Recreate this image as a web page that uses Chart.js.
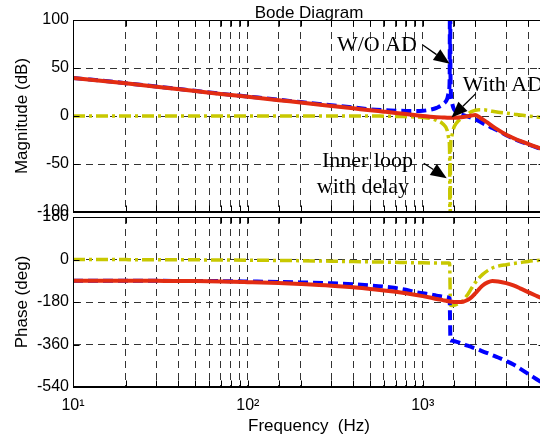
<!DOCTYPE html>
<html>
<head>
<meta charset="utf-8">
<script src="https://cdn.jsdelivr.net/npm/chart.js@4.4.1/dist/chart.umd.min.js"></script>
<style>
html,body{margin:0;padding:0;background:#fff;overflow:hidden;width:540px;height:440px;}
#wrap{position:relative;width:540px;height:440px;overflow:hidden;background:#fff;}
#mag{position:absolute;left:0;top:0;}
#phase{position:absolute;left:0;top:200px;}
</style>
</head>
<body>
<div id="wrap">
<canvas id="mag" width="545" height="230"></canvas>
<canvas id="phase" width="545" height="240"></canvas>
</div>
<script>
// ---------------- data ----------------
const freqHz = [10, 20, 30, 50, 70, 100, 150, 200, 300, 400, 500, 600, 700, 800, 900, 1000, 1100, 1200, 1300, 1380, 1410, 1425, 1432, 1440, 1460, 1500, 1550, 1600, 1700, 1800, 1900, 2000, 2100, 2200, 2350, 2500, 2700, 3000, 3300, 3600, 4000, 4500, 5000];

const magWithAD = [39.5, 34, 30.5, 26, 23, 20, 16.5, 14, 10.5, 8, 6, 4.5, 3.2, 2, 1, 0, -0.7, -1.2, -1.5, -1.7, -1.8, -1.8, -1.8, -1.8, -1.8, -1.8, -1.7, -1.5, -1, -0.3, 0.5, 1, -1, -3.5, -7, -10.5, -14.5, -19.5, -23, -26, -29, -32.5, -35.5];
const magWithoutAD = [39.7, 34.2, 30.7, 26.2, 23.2, 20.3, 17, 14.5, 11.2, 9, 7, 6, 5.5, 5.3, 5.3, 5.5, 6.5, 8.5, 12, 18, 25, 40, 200, 45, 17, 8, 4.5, 3, 1, -0.5, -2, -3.5, -5.5, -7.5, -10, -12.5, -15.5, -20, -23.5, -26.5, -29.5, -33, -36];
const magInnerLoopDelay = [0, 0, 0, 0, 0, 0, 0, 0, 0, 0, 0, -0.2, -0.4, -0.7, -1, -1.5, -2.5, -4.5, -8, -15, -24, -40, -200, -40, -22, -13, -8, -5, -1, 2, 4.5, 6, 6.5, 6.5, 6, 5, 4, 3, 2, 1, 0, -1, -1.5];

const phaseWithAD = [-90, -90, -90.5, -91.5, -93, -96, -100, -104, -111, -118, -125, -131, -137, -143, -149, -155, -161, -167, -172, -176, -177, -178, -178, -178.5, -179, -180, -180.5, -180.5, -179, -172, -160, -143, -125, -110, -97, -91, -93, -100, -110, -122, -138, -155, -170];
const phaseWithoutAD = [-90, -90, -90.3, -91, -91.5, -93, -95, -97, -101, -105, -110, -115, -121, -128, -137, -143, -148, -153, -157, -160, -162, -164, -250, -342, -343, -345, -348, -351, -358, -365, -371, -377, -383, -389, -397, -405, -415, -430, -445, -462, -484, -508, -530];
const phaseInnerLoopDelay = [0, -0.5, -1, -1.5, -2, -3, -4, -5, -7, -9, -10, -11, -12, -13, -13.5, -14, -14.5, -15, -15, -15, -15, -16, -100, -193, -195, -194, -191, -186, -174, -150, -122, -97, -78, -63, -47, -36, -28, -22, -17, -13, -8, -4, -1.5];

const magTicks = [100, 50, 0, -50, -100];
const phaseTicks = [180, 0, -180, -360, -540];
const decadeLabels = {1: '10\u00B9', 2: '10\u00B2', 3: '10\u00B3'};
const freqMin = 10, freqMax = 5000;

const chartTitle = 'Bode Diagram';
const magAxisTitle = 'Magnitude (dB)';
const phaseAxisTitle = 'Phase (deg)';
const freqAxisTitle = 'Frequency  (Hz)';

// callouts (anchored in data coordinates: [frequency, dB])
const calloutTexts = [
  {text: 'W/O AD', f: 323, db: 68},
  {text: 'With AD', f: 1693, db: 26.4},
  {text: 'Inner loop', f: 265, db: -53.4},
  {text: 'with delay', f: 248, db: -80.3}
];
const calloutArrows = [
  {from: [1000, 74], to: [1426, 54.4]},
  {from: [2009, 23.3], to: [1461, -1.6]},
  {from: [1013, -49.2], to: [1371, -64.8]}
];

// ---------------- styles ----------------
const SANS = "'Liberation Sans', Arial, Helvetica, sans-serif";
const SERIF = "'Liberation Serif', 'Times New Roman', serif";
const GRID_DASH = [7, 5];
const seriesStyle = {
  withAD: {label: 'With AD', color: 'rgb(226,44,18)', width: 4, dash: []},
  withoutAD: {label: 'W/O AD', color: 'rgb(0,0,255)', width: 4, dash: [10, 5]},
  inner: {label: 'Inner loop with delay', color: 'rgb(200,200,0)', width: 3.5, dash: [12, 4, 3, 4]}
};

function dataset(values, st) {
  return {
    label: st.label,
    data: freqHz.map((f, i) => ({x: f, y: values[i]})),
    borderColor: st.color,
    borderWidth: st.width,
    borderDash: st.dash,
    borderCapStyle: 'butt',
    borderJoinStyle: 'round',
    pointRadius: 0,
    pointHoverRadius: 0,
    fill: false,
    cubicInterpolationMode: 'monotone',
    clip: 0
  };
}

function decadeLabel(v) {
  const e = Math.log10(v);
  const r = Math.round(e);
  if (Math.abs(e - r) < 1e-9 && decadeLabels[r]) return decadeLabels[r];
  return '';
}

function xScale(showLabels) {
  return {
    type: 'logarithmic',
    min: freqMin,
    max: freqMax,
    grid: {color: '#333', lineWidth: 1, drawTicks: showLabels, tickLength: 9, tickColor: 'rgba(0,0,0,0)'},
    border: {display: true, color: '#000', width: 1, dash: GRID_DASH},
    ticks: {
      display: showLabels, autoSkip: false, maxRotation: 0, minRotation: 0,
      padding: 0, color: '#000', font: {family: SANS, size: 16},
      callback: (v) => decadeLabel(v)
    },
    title: {
      display: showLabels, text: freqAxisTitle, color: '#000',
      font: {family: SANS, size: 17}, padding: {top: 0, bottom: 3}
    },
    afterFit(s) { s.height = showLabels ? 53 : 18; }
  };
}

function yScale(min, max, tickList, title) {
  return {
    type: 'linear',
    min: min, max: max,
    afterBuildTicks(s) { s.ticks = tickList.map(v => ({value: v})); },
    grid: {color: '#333', lineWidth: 1, drawTicks: false},
    border: {display: true, color: '#000', width: 1, dash: GRID_DASH},
    ticks: {padding: 4, color: '#000', font: {family: SANS, size: 16}},
    title: {
      display: true, text: title, color: '#000',
      font: {family: SANS, size: 17}, padding: {top: 12, bottom: 0}
    },
    afterFit(s) { s.width = 73; }
  };
}

const framePlugin = {
  id: 'frame',
  afterDatasetsDraw(chart) {
    const {ctx, chartArea: a, scales: {x, y}} = chart;
    ctx.save();
    ctx.strokeStyle = '#000';
    ctx.lineWidth = 1;
    ctx.setLineDash([]);
    const L = Math.round(a.left) + 0.5, R = Math.round(a.right) - 0.5;
    const T = Math.round(a.top) + 0.5, B = Math.round(a.bottom) - 0.5;
    ctx.beginPath();
    ctx.rect(L, T, R - L, B - T);
    x.ticks.forEach(t => {
      const p = Math.round(x.getPixelForValue(t.value)) + 0.5;
      ctx.moveTo(p, B); ctx.lineTo(p, B - 6);
      ctx.moveTo(p, T); ctx.lineTo(p, T + 6);
    });
    y.ticks.forEach(t => {
      const p = Math.round(y.getPixelForValue(t.value)) + 0.5;
      ctx.moveTo(L, p); ctx.lineTo(L + 6, p);
      ctx.moveTo(R, p); ctx.lineTo(R - 6, p);
    });
    ctx.stroke();
    ctx.restore();
  }
};

const titlePlugin = {
  id: 'plotTitle',
  afterDraw(chart) {
    const {ctx, chartArea: a} = chart;
    ctx.save();
    ctx.fillStyle = '#000';
    ctx.font = '17px ' + SANS;
    ctx.textAlign = 'center';
    ctx.textBaseline = 'alphabetic';
    ctx.fillText(chartTitle, (a.left + a.right) / 2, a.top - 2);
    ctx.restore();
  }
};

const calloutPlugin = {
  id: 'callouts',
  afterDraw(chart) {
    const {ctx, scales: {x, y}} = chart;
    ctx.save();
    ctx.fillStyle = '#000';
    ctx.strokeStyle = '#000';
    ctx.setLineDash([]);
    ctx.font = '22px ' + SERIF;
    ctx.textAlign = 'left';
    ctx.textBaseline = 'alphabetic';
    calloutTexts.forEach(c => ctx.fillText(c.text, x.getPixelForValue(c.f), y.getPixelForValue(c.db)));
    calloutArrows.forEach(a => {
      const x0 = x.getPixelForValue(a.from[0]), y0 = y.getPixelForValue(a.from[1]);
      const x1 = x.getPixelForValue(a.to[0]), y1 = y.getPixelForValue(a.to[1]);
      const len = Math.hypot(x1 - x0, y1 - y0);
      const ux = (x1 - x0) / len, uy = (y1 - y0) / len;
      const hl = 16, hw = 6.5;
      const bx = x1 - ux * hl, by = y1 - uy * hl;
      ctx.lineWidth = 1.3;
      ctx.beginPath();
      ctx.moveTo(x0, y0); ctx.lineTo(bx, by);
      ctx.stroke();
      ctx.beginPath();
      ctx.moveTo(x1, y1);
      ctx.lineTo(bx - uy * hw, by + ux * hw);
      ctx.lineTo(bx + uy * hw, by - ux * hw);
      ctx.closePath();
      ctx.fill();
    });
    ctx.restore();
  }
};

Chart.defaults.font.family = SANS;
Chart.defaults.color = '#000';

new Chart(document.getElementById('mag'), {
  type: 'line',
  data: {datasets: [
    dataset(magWithAD, seriesStyle.withAD),
    dataset(magWithoutAD, seriesStyle.withoutAD),
    dataset(magInnerLoopDelay, seriesStyle.inner)
  ]},
  options: {
    responsive: false, animation: false,
    layout: {padding: {top: 20, left: 0, right: 0, bottom: 0}},
    plugins: {legend: {display: false}, tooltip: {enabled: false}, title: {display: false}},
    scales: {x: xScale(false), y: yScale(-100, 100, magTicks, magAxisTitle)}
  },
  plugins: [framePlugin, titlePlugin, calloutPlugin]
});

new Chart(document.getElementById('phase'), {
  type: 'line',
  data: {datasets: [
    dataset(phaseWithAD, seriesStyle.withAD),
    dataset(phaseWithoutAD, seriesStyle.withoutAD),
    dataset(phaseInnerLoopDelay, seriesStyle.inner)
  ]},
  options: {
    responsive: false, animation: false,
    layout: {padding: {top: 17, left: 0, right: 0, bottom: 0}},
    plugins: {legend: {display: false}, tooltip: {enabled: false}},
    scales: {x: xScale(true), y: yScale(-540, 180, phaseTicks, phaseAxisTitle)}
  },
  plugins: [framePlugin]
});
</script>
</body>
</html>
